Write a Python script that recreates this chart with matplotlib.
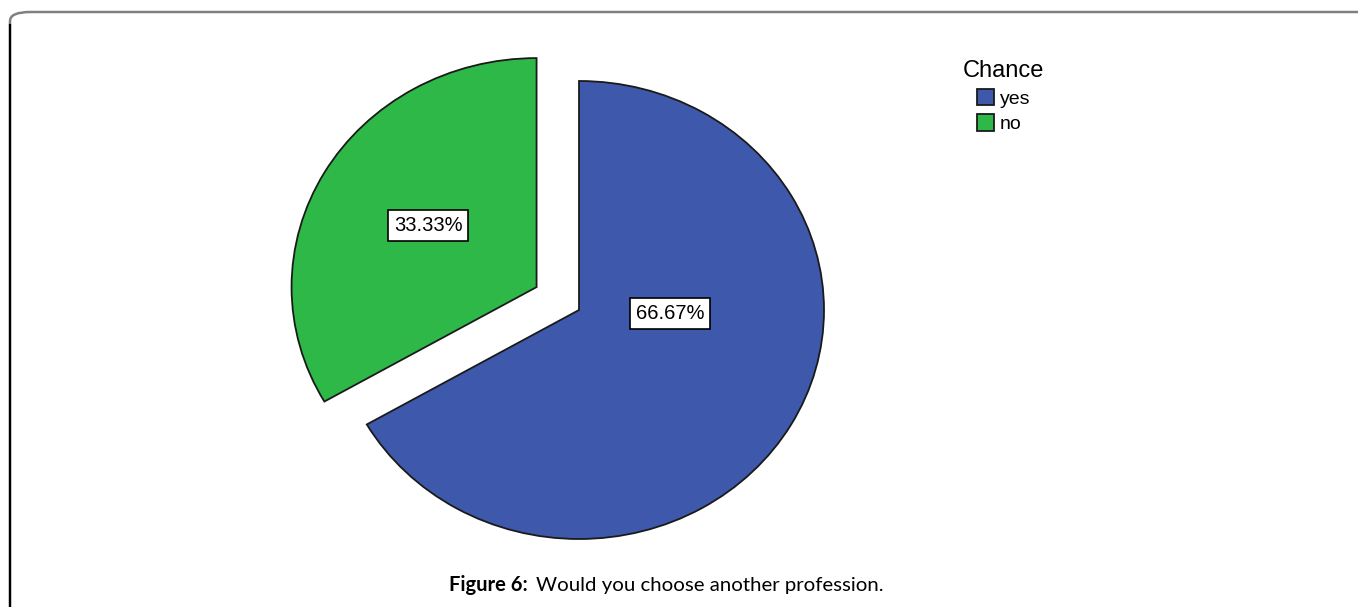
"""Pie chart: Would you choose another profession."""

import matplotlib.pyplot as plt
from matplotlib.patches import FancyBboxPatch
from matplotlib.lines import Line2D

plt.rcParams["font.family"] = ["Liberation Sans", "DejaVu Sans"]

categories = ["yes", "no"]
shares = [66.67, 33.33]
share_labels = ["66.67%", "33.33%"]
colors = ["#3e58ac", "#2eb848"]
explode = [0.0, 0.2]
legend_title = "Chance"

W, H = 1358, 607
fig = plt.figure(figsize=(W / 100, H / 100), dpi=100)

# pie is slightly wider than tall in the source, so keep aspect auto
cx, cy, rx, ry = 579, 310, 245, 229
xr, yr = 1.5, 1.25
ax = fig.add_axes([(cx - xr * rx) / W, (H - cy - yr * ry) / H,
                   2 * xr * rx / W, 2 * yr * ry / H])
wedges, _ = ax.pie(shares, colors=colors, explode=explode, startangle=90,
                   counterclock=False,
                   wedgeprops=dict(edgecolor="#1a1a1a", linewidth=1.3))
ax.set_xlim(-xr, xr)
ax.set_ylim(-yr, yr)
ax.set_aspect("auto")
ax.axis("off")

label_pos = [(0.371, -0.017), (-0.616, 0.367)]
for (x, y), txt in zip(label_pos, share_labels):
    ax.text(x, y, txt, ha="center", va="center", fontsize=14.5,
            bbox=dict(boxstyle="square,pad=0.3", facecolor="white",
                      edgecolor="black", linewidth=1.2))

leg = fig.legend(wedges, categories, title=legend_title, frameon=False,
                 loc="upper left", bbox_to_anchor=(963 / W, 1 - 60 / H),
                 fontsize=14, title_fontsize=17, handlelength=0.9,
                 handleheight=0.9, handletextpad=0.3, labelspacing=0.35,
                 borderpad=0, borderaxespad=0)

# caption
fig.text(528 / W, 1 - 585 / H, "Figure 6:", ha="right", va="center",
         fontsize=14.5, fontweight="bold", family=["Lato", "DejaVu Sans"])
fig.text(536 / W, 1 - 585 / H, "Would you choose another profession.",
         ha="left", va="center", fontsize=14.7, family=["Lato", "DejaVu Sans"])

# page frame
frame = FancyBboxPatch((10 / W, -0.2), (W + 40) / W, 1.2 - 12 / H,
                       boxstyle="round,pad=0,rounding_size=0.015",
                       transform=fig.transFigure, fill=False,
                       edgecolor="#808080", linewidth=1.8, clip_on=False)
fig.patches.append(frame)
fig.lines.append(Line2D([10 / W, 10 / W], [0, 1 - 25 / H], color="black",
                        linewidth=1.6, transform=fig.transFigure))

fig.savefig("out.png", dpi=100)
